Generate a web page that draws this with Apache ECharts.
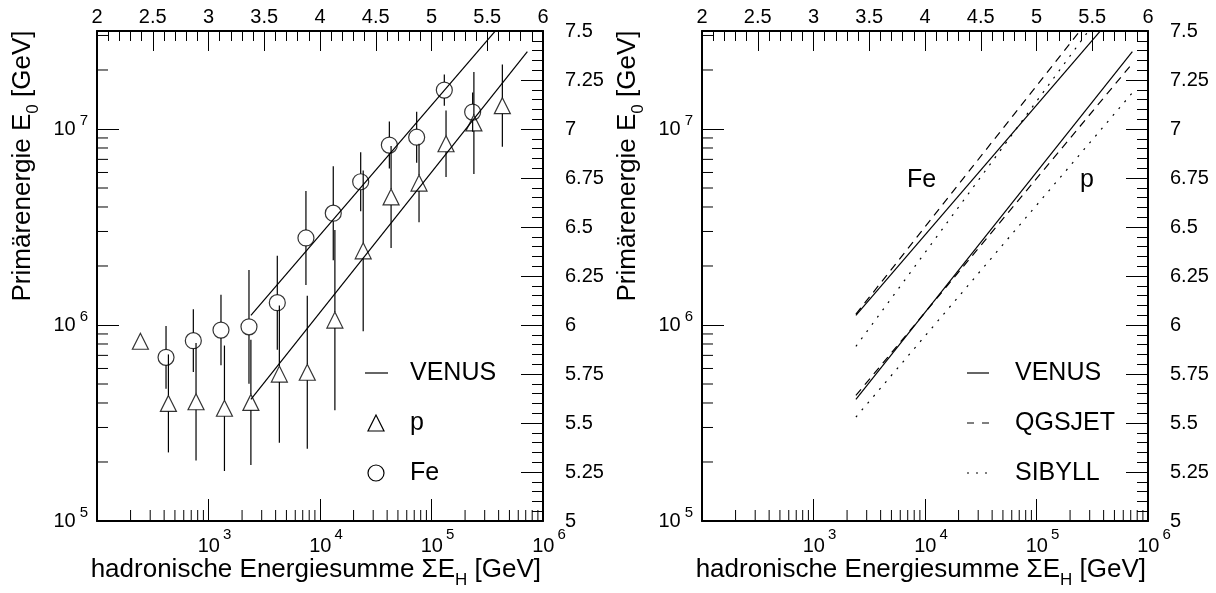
<!DOCTYPE html>
<html>
<head>
<meta charset="utf-8">
<script src="https://cdn.jsdelivr.net/npm/echarts@6/dist/echarts.min.js"></script>
<style>
  html, body { margin: 0; padding: 0; background: #fff; }
  #chart { width: 1216px; height: 593px; }
</style>
</head>
<body>
<div id="chart"></div>
<script>
// Proton-like events: hadronic energy sum ΣE_H [GeV], primary energy E0 [GeV], error in decades
const pSumEH = [245, 437, 773, 1390, 2400, 4320, 7690, 13600, 24400, 43400, 77300, 135000, 240000, 432000];
const pE0 = [8.26e5, 3.98e5, 4.06e5, 3.76e5, 4.03e5, 5.62e5, 5.74e5, 1.06e6, 2.39e6, 4.50e6, 5.30e6, 8.41e6, 1.074e7, 1.315e7];
const pErrDex = [0, 0.25, 0.30, 0.32, 0.32, 0.35, 0.39, 0.46, 0.41, 0.26, 0.20, 0.17, 0.26, 0.21];

// Iron-like events
const feSumEH = [416, 731, 1294, 2307, 4140, 7480, 13150, 23170, 41880, 73620, 130300, 233900];
const feE0 = [6.84e5, 8.32e5, 9.42e5, 9.79e5, 1.30e6, 2.78e6, 3.72e6, 5.38e6, 8.28e6, 9.08e6, 1.58e7, 1.22e7];
const feErrDex = [0.16, 0.16, 0.18, 0.29, 0.24, 0.24, 0.24, 0.15, 0.12, 0.13, 0.08, 0.10];

// Calibration lines E0(ΣE_H): ΣE_H at both ends and E0 at those ends
const fitSumEH = [2400, 724000];
const venusFe = [1.12e6, 4.90e7];
const venusP = [4.17e5, 2.48e7];
const qgsjetFe = [1.135e6, 6.89e7];
const qgsjetP = [4.37e5, 2.16e7];
const sibyllFe = [7.78e5, 6.37e7];
const sibyllP = [3.39e5, 1.53e7];

// Axis ranges in decades (log10 of GeV)
const xDecades = [2, 6];
const yDecades = [5, 7.5];

const FONT = '"Liberation Sans", Arial, Helvetica, sans-serif';
const lg = Math.log10;
const pts = (xs, ys) => xs.map((x, i) => [lg(x), lg(ys[i])]);

const frameLine = { show: true, onZero: false, lineStyle: { color: '#000', width: 2 } };
const tickLine = { color: '#000', width: 1 };

const richX = {
  b: { fontSize: 20, fontFamily: FONT, color: '#000', padding: [0, 3, 0, 12] },
  s: { fontSize: 15, fontFamily: FONT, color: '#000', padding: [0, 0, 24, 0] }
};
const richY = {
  b: { fontSize: 20, fontFamily: FONT, color: '#000', padding: [0, 4, 0, 0] },
  s: { fontSize: 15, fontFamily: FONT, color: '#000', padding: [0, 0, 16, 0] }
};
const decimal = v => String(+v.toFixed(2));

function xAxesFor(g) {
  return [
    {
      gridIndex: g, type: 'value', position: 'bottom', min: xDecades[0], max: xDecades[1], interval: 1,
      axisLine: frameLine,
      axisTick: { show: true, inside: true, length: 22, lineStyle: tickLine },
      axisLabel: {
        margin: 6, color: '#000', fontFamily: FONT, fontSize: 20, rich: richX,
        formatter: v => (v > xDecades[0] && Number.isInteger(v)) ? '{b|10}{s|' + v + '}' : ''
      },
      splitLine: { show: false }
    },
    {
      gridIndex: g, type: 'value', position: 'top', min: xDecades[0], max: xDecades[1], interval: 0.5,
      axisLine: frameLine,
      axisTick: { show: true, inside: true, length: 20, lineStyle: tickLine },
      minorTick: { show: true, splitNumber: 5, length: 10, lineStyle: tickLine },
      axisLabel: { margin: 4, color: '#000', fontFamily: FONT, fontSize: 20, formatter: decimal },
      splitLine: { show: false }
    }
  ];
}

function yAxesFor(g) {
  return [
    {
      gridIndex: g, type: 'value', position: 'left', min: yDecades[0], max: yDecades[1], interval: 1,
      axisLine: frameLine,
      axisTick: { show: true, inside: true, length: 22, lineStyle: tickLine },
      axisLabel: {
        margin: 9, color: '#000', fontFamily: FONT, fontSize: 20, rich: richY,
        formatter: v => Number.isInteger(v) ? '{b|10}{s|' + v + '}' : ''
      },
      splitLine: { show: false }
    },
    {
      gridIndex: g, type: 'value', position: 'right', min: yDecades[0], max: yDecades[1], interval: 0.25,
      axisLine: frameLine,
      axisTick: { show: true, inside: true, length: 22, lineStyle: tickLine },
      minorTick: { show: true, splitNumber: 5, length: 11, lineStyle: tickLine },
      axisLabel: { margin: 22, color: '#000', fontFamily: FONT, fontSize: 20, formatter: decimal },
      splitLine: { show: false }
    }
  ];
}

// Logarithmic sub-decade ticks (2..9 × 10^n) on the bottom and left axes
function logMinorTicks(g) {
  const data = [];
  for (let n = xDecades[0]; n < xDecades[1]; n++)
    for (let k = 2; k <= 9; k++) data.push([lg(k * Math.pow(10, n)), 0]);
  for (let n = yDecades[0]; n < Math.ceil(yDecades[1]); n++)
    for (let k = 2; k <= 9; k++) {
      const v = lg(k * Math.pow(10, n));
      if (v < yDecades[1]) data.push([v, 1]);
    }
  return {
    type: 'custom', xAxisIndex: 2 * g, yAxisIndex: 2 * g, silent: true, z: 1,
    data: data,
    renderItem(params, api) {
      const v = api.value(0), kind = api.value(1);
      if (kind === 0) {
        const p = api.coord([v, yDecades[0]]);
        return { type: 'line', shape: { x1: p[0], y1: p[1], x2: p[0], y2: p[1] - 11 }, style: { stroke: '#000', lineWidth: 1 } };
      }
      const p = api.coord([xDecades[0], v]);
      return { type: 'line', shape: { x1: p[0], y1: p[1], x2: p[0] + 11, y2: p[1] }, style: { stroke: '#000', lineWidth: 1 } };
    }
  };
}

// Vertical error bars, drawn outside the open markers
function errorBars(xs, ys, errs, g) {
  return {
    type: 'custom', xAxisIndex: 2 * g, yAxisIndex: 2 * g, silent: true, z: 2,
    data: xs.map((x, i) => [lg(x), lg(ys[i]), errs[i]]),
    renderItem(params, api) {
      const x = api.value(0), y = api.value(1), e = api.value(2);
      const c = api.coord([x, y]);
      const hi = api.coord([x, y + e]);
      const lo = api.coord([x, y - e]);
      const r = 8;
      const children = [];
      const st = { stroke: '#000', lineWidth: 1.2 };
      if (hi[1] < c[1] - r) children.push({ type: 'line', shape: { x1: c[0], y1: hi[1], x2: c[0], y2: c[1] - r }, style: st });
      if (lo[1] > c[1] + r) children.push({ type: 'line', shape: { x1: c[0], y1: c[1] + r, x2: c[0], y2: lo[1] }, style: st });
      return { type: 'group', children: children };
    }
  };
}

function fitLine(name, ys, g, dash) {
  return {
    type: 'line', name: name, xAxisIndex: 2 * g, yAxisIndex: 2 * g,
    data: pts(fitSumEH, ys), symbol: 'none', showSymbol: false, clip: true, silent: true, z: 2,
    lineStyle: { color: '#000', width: 1.2, type: dash || 'solid' }
  };
}

const openMarker = { color: 'rgba(0,0,0,0)', borderColor: '#000', borderWidth: 1.2 };

const series = [
  logMinorTicks(0),
  logMinorTicks(1),
  fitLine('VENUS Fe', venusFe, 0),
  fitLine('VENUS p', venusP, 0),
  errorBars(pSumEH, pE0, pErrDex, 0),
  errorBars(feSumEH, feE0, feErrDex, 0),
  { type: 'scatter', name: 'p', xAxisIndex: 0, yAxisIndex: 0, symbol: 'triangle', symbolSize: 16,
    data: pts(pSumEH, pE0), itemStyle: openMarker, silent: true, z: 3 },
  { type: 'scatter', name: 'Fe', xAxisIndex: 0, yAxisIndex: 0, symbol: 'circle', symbolSize: 16,
    data: pts(feSumEH, feE0), itemStyle: openMarker, silent: true, z: 3 },
  fitLine('VENUS Fe', venusFe, 1),
  fitLine('VENUS p', venusP, 1),
  fitLine('QGSJET Fe', qgsjetFe, 1, [8, 6]),
  fitLine('QGSJET p', qgsjetP, 1, [8, 6]),
  fitLine('SIBYLL Fe', sibyllFe, 1, [2, 7]),
  fitLine('SIBYLL p', sibyllP, 1, [2, 7])
];

const textStyle = (extra) => Object.assign({ fill: '#000', font: '25px ' + FONT, verticalAlign: 'middle' }, extra);
const titleRich = {
  t: { fontSize: 26, fontFamily: FONT, color: '#000' },
  sub: { fontSize: 17, fontFamily: FONT, color: '#000', padding: [20, 0, 0, 0] }
};

function panelTexts(left) {
  const right = left + 446;
  return [
    { type: 'text', x: left - 74, y: 166, rotation: Math.PI / 2,
      style: { text: '{t|Primärenergie E}{sub|0}{t| [GeV]}', rich: titleRich, align: 'center', verticalAlign: 'middle' } },
    { type: 'text', x: right - 2, y: 570,
      style: { text: '{t|hadronische Energiesumme ΣE}{sub|H}{t| [GeV]}', rich: titleRich, align: 'right', verticalAlign: 'middle' } }
  ];
}

const lineSt = { stroke: '#000', lineWidth: 1.2 };
const graphics = [].concat(
  panelTexts(97),
  panelTexts(702),
  [
    // key of the left panel
    { type: 'line', shape: { x1: 365, y1: 373, x2: 388, y2: 373 }, style: lineSt },
    { type: 'text', x: 410, y: 373, style: textStyle({ text: 'VENUS' }) },
    { type: 'polygon', shape: { points: [[376, 415], [368, 431], [384, 431]] }, style: { fill: 'none', stroke: '#000', lineWidth: 1.2 } },
    { type: 'text', x: 410, y: 423, style: textStyle({ text: 'p' }) },
    { type: 'circle', shape: { cx: 376, cy: 473, r: 8 }, style: { fill: 'none', stroke: '#000', lineWidth: 1.2 } },
    { type: 'text', x: 410, y: 473, style: textStyle({ text: 'Fe' }) },
    // key of the right panel
    { type: 'line', shape: { x1: 967, y1: 373, x2: 989, y2: 373 }, style: lineSt },
    { type: 'text', x: 1015, y: 373, style: textStyle({ text: 'VENUS' }) },
    { type: 'line', shape: { x1: 967, y1: 423, x2: 989, y2: 423 }, style: Object.assign({ lineDash: [7, 8] }, lineSt) },
    { type: 'text', x: 1015, y: 423, style: textStyle({ text: 'QGSJET' }) },
    { type: 'line', shape: { x1: 967, y1: 473, x2: 989, y2: 473 }, style: Object.assign({ lineDash: [2, 7] }, lineSt) },
    { type: 'text', x: 1015, y: 473, style: textStyle({ text: 'SIBYLL' }) },
    // primary labels of the line bundles
    { type: 'text', x: 907, y: 180, style: textStyle({ text: 'Fe' }) },
    { type: 'text', x: 1080, y: 180, style: textStyle({ text: 'p' }) }
  ]
);

const option = {
  animation: false,
  backgroundColor: '#fff',
  textStyle: { fontFamily: FONT },
  grid: [
    { left: 97, top: 31, width: 446, height: 490, containLabel: false },
    { left: 702, top: 31, width: 446, height: 490, containLabel: false }
  ],
  xAxis: xAxesFor(0).concat(xAxesFor(1)),
  yAxis: yAxesFor(0).concat(yAxesFor(1)),
  series: series,
  graphic: graphics
};

const chart = echarts.init(document.getElementById('chart'), null, { renderer: 'canvas' });
chart.setOption(option);
</script>
</body>
</html>
